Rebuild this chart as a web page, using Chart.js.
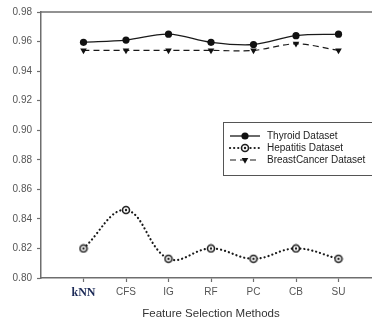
<!DOCTYPE html>
<html>
<head>
<meta charset="utf-8">
<script src="https://cdn.jsdelivr.net/npm/chart.js@4"></script>
<style>
  body { margin: 0; background: #fff; }
  #wrap { width: 372px; height: 323px; overflow: hidden; position: relative; }
  #inner { width: 392px; height: 323px; }
</style>
</head>
<body>
<div id="wrap"><div id="inner"><canvas id="canvas"></canvas></div></div>
<script>
const methods = ['kNN', 'CFS', 'IG', 'RF', 'PC', 'CB', 'SU'];
const thyroid = [0.9595, 0.961, 0.965, 0.9595, 0.958, 0.964, 0.965];
const hepatitis = [0.820, 0.846, 0.813, 0.820, 0.813, 0.820, 0.813];
const breastCancer = [0.954, 0.954, 0.954, 0.954, 0.954, 0.9585, 0.954];
const yTicks = [0.80, 0.82, 0.84, 0.86, 0.88, 0.90, 0.92, 0.94, 0.96, 0.98];

const axisGray = '#6e6e6e';
const sans = '"Liberation Sans", Arial, sans-serif';

// open circle with a dot in the middle
function ringDot() {
    const c = document.createElement('canvas');
    c.width = 10; c.height = 10;
    const g = c.getContext('2d');
    g.beginPath();
    g.arc(5, 5, 3.5, 0, Math.PI * 2);
    g.fillStyle = '#fff';
    g.fill();
    g.lineWidth = 1.6;
    g.strokeStyle = '#1e1e1e';
    g.stroke();
    g.beginPath();
    g.arc(5, 5, 1.2, 0, Math.PI * 2);
    g.fillStyle = '#1e1e1e';
    g.fill();
    return c;
}

const toPoints = arr => arr.map((v, i) => ({ x: i + 1, y: v }));

// top frame line + boxed legend
const framePlugin = {
    id: 'frame',
    afterDraw(chart) {
        const ctx = chart.ctx;
        const a = chart.chartArea;
        ctx.save();
        ctx.strokeStyle = axisGray;
        ctx.lineWidth = 1.5;
        ctx.beginPath();
        ctx.moveTo(a.left, a.top);
        ctx.lineTo(a.right, a.top);
        ctx.stroke();

        // legend box
        ctx.lineWidth = 1;
        ctx.strokeStyle = '#555';
        ctx.strokeRect(223.5, 122.5, 160, 53);
        const rows = [136, 148, 160];
        chart.data.datasets.forEach((ds, i) => {
            const y = rows[i];
            ctx.save();
            ctx.strokeStyle = ds.borderColor;
            ctx.lineWidth = ds.borderWidth;
            ctx.lineCap = ds.borderCapStyle || 'butt';
            ctx.setLineDash(ds.borderDash || []);
            ctx.beginPath();
            ctx.moveTo(230, y);
            ctx.lineTo(260, y);
            ctx.stroke();
            ctx.restore();
            ctx.fillStyle = '#111';
            ctx.strokeStyle = '#111';
            Chart.helpers.drawPoint(ctx, {
                pointStyle: ds.pointStyle,
                rotation: ds.pointRotation || 0,
                radius: ds.pointRadius,
                borderWidth: 0
            }, 245, y);
            ctx.fillStyle = '#222';
            ctx.font = '10px ' + sans;
            ctx.textBaseline = 'middle';
            ctx.textAlign = 'left';
            ctx.fillText(ds.label, 267, y + 0.5);
        });
        ctx.restore();
    }
};

const hepMarker = ringDot();

new Chart(document.querySelector('#canvas'), {
    type: 'line',
    data: {
        datasets: [
            {
                label: 'Thyroid Dataset',
                data: toPoints(thyroid),
                borderColor: '#1a1a1a',
                backgroundColor: '#111',
                borderWidth: 1.3,
                pointStyle: 'circle',
                pointRadius: 3.6,
                pointBorderWidth: 0,
                tension: 0.35
            },
            {
                label: 'Hepatitis Dataset',
                data: toPoints(hepatitis),
                borderColor: '#1a1a1a',
                backgroundColor: '#fff',
                borderWidth: 2.2,
                borderDash: [0.1, 4],
                borderCapStyle: 'round',
                pointStyle: hepMarker,
                pointRadius: 3.6,
                tension: 0.4
            },
            {
                label: 'BreastCancer Dataset',
                data: toPoints(breastCancer),
                borderColor: '#1a1a1a',
                backgroundColor: '#111',
                borderWidth: 1.2,
                borderDash: [6, 4],
                pointStyle: 'triangle',
                pointRotation: 180,
                pointRadius: 3.8,
                pointBorderWidth: 0,
                tension: 0.3
            }
        ]
    },
    options: {
        responsive: true,
        maintainAspectRatio: false,
        animation: false,
        layout: { padding: { left: 0, top: 12, right: 11, bottom: 0 } },
        plugins: {
            legend: { display: false },
            tooltip: { enabled: false }
        },
        scales: {
            x: {
                type: 'linear',
                min: 0,
                max: 8,
                afterBuildTicks: scale => {
                    scale.ticks = methods.map((m, i) => ({ value: i + 1 }));
                },
                afterFit: scale => { scale.height = 45; },
                grid: {
                    drawOnChartArea: false,
                    tickLength: 4,
                    tickColor: axisGray,
                    tickWidth: 1.2
                },
                border: { color: axisGray, width: 1.5 },
                ticks: {
                    padding: 4,
                    autoSkip: false,
                    maxRotation: 0,
                    callback: v => methods[v - 1],
                    color: ctx => ctx.index === 0 ? '#1c2a57' : '#555',
                    font: ctx => ctx.index === 0
                        ? { family: '"Liberation Serif", "Times New Roman", serif', size: 12, weight: 'bold' }
                        : { family: sans, size: 10 }
                },
                title: {
                    display: true,
                    text: 'Feature Selection Methods',
                    color: '#333',
                    font: { family: sans, size: 11.5 },
                    padding: { top: 0, bottom: 2 }
                }
            },
            y: {
                min: 0.80,
                max: 0.98,
                afterBuildTicks: scale => {
                    scale.ticks = yTicks.map(v => ({ value: v }));
                },
                afterFit: scale => { scale.width = 41; },
                grid: {
                    drawOnChartArea: false,
                    tickLength: 4,
                    tickColor: axisGray,
                    tickWidth: 1.2
                },
                border: { color: axisGray, width: 1.5 },
                ticks: {
                    padding: 5,
                    color: '#555',
                    font: { family: sans, size: 10 },
                    callback: v => v.toFixed(2)
                }
            }
        }
    },
    plugins: [framePlugin]
});
</script>
</body>
</html>
